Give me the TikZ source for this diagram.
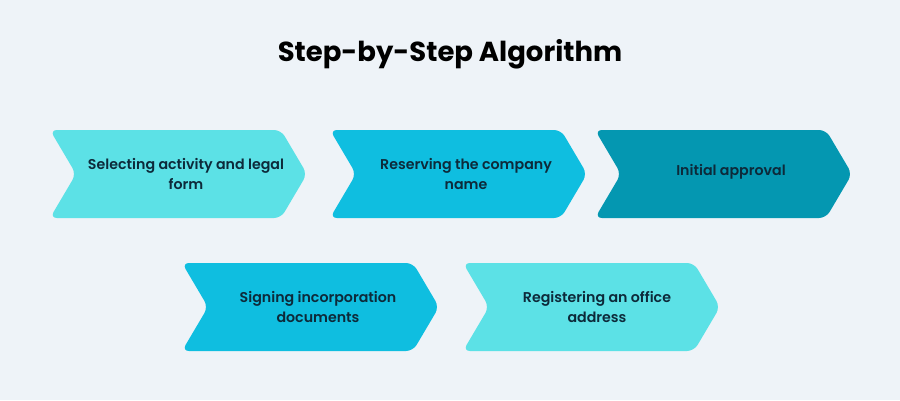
\documentclass[tikz,border=0pt]{standalone}
\usepackage{fontspec}
\setmainfont{Poppins}
\newfontfamily\stepfont{Poppins SemiBold}
\usepackage{tikz}

\definecolor{pagebg}{HTML}{EEF3F8}
\definecolor{lite}{HTML}{5CE1E6}
\definecolor{mid}{HTML}{0FBEE0}
\definecolor{deep}{HTML}{0497B1}
\definecolor{ink}{HTML}{0D2A3A}

\begin{document}
\begin{tikzpicture}[x=1pt, y=-1pt,
    chevron/.pic={\fill[rounded corners=7pt] (0, 0) -- (231, 0) -- (257, 44) -- (231, 88) -- (0, 88) -- (26, 44) -- cycle;},
    steptext/.style={align=center, text=ink, font=\stepfont\fontsize{14.2}{20}\selectfont}]
      \fill[pagebg] (0, 0) rectangle (900, 400);
      \useasboundingbox (0, 0) rectangle (900, 400);
      \node (title) at (450, 54) {\fontsize{27.5}{32}\selectfont\bfseries Step-by-Step Algorithm};
      % top row
      \pic[fill=lite] at (50, 130) {chevron};
      \pic[fill=mid] at (330, 130) {chevron};
      \pic[fill=deep] at (595, 130) {chevron};
      % bottom row
      \pic[fill=mid] at (182, 263) {chevron};
      \pic[fill=lite] at (463, 263) {chevron};
      \node[steptext] (s1) at (186, 174) {Selecting activity and legal\\form};
      \node[steptext] (s2) at (466, 174) {Reserving the company\\name};
      \node[steptext] (s3) at (731, 172) {Initial approval};
      \node[steptext] (s4) at (318, 307) {Signing incorporation\\documents};
      \node[steptext] (s5) at (597, 307) {Registering an office\\address};
    \end{tikzpicture}
\end{document}
